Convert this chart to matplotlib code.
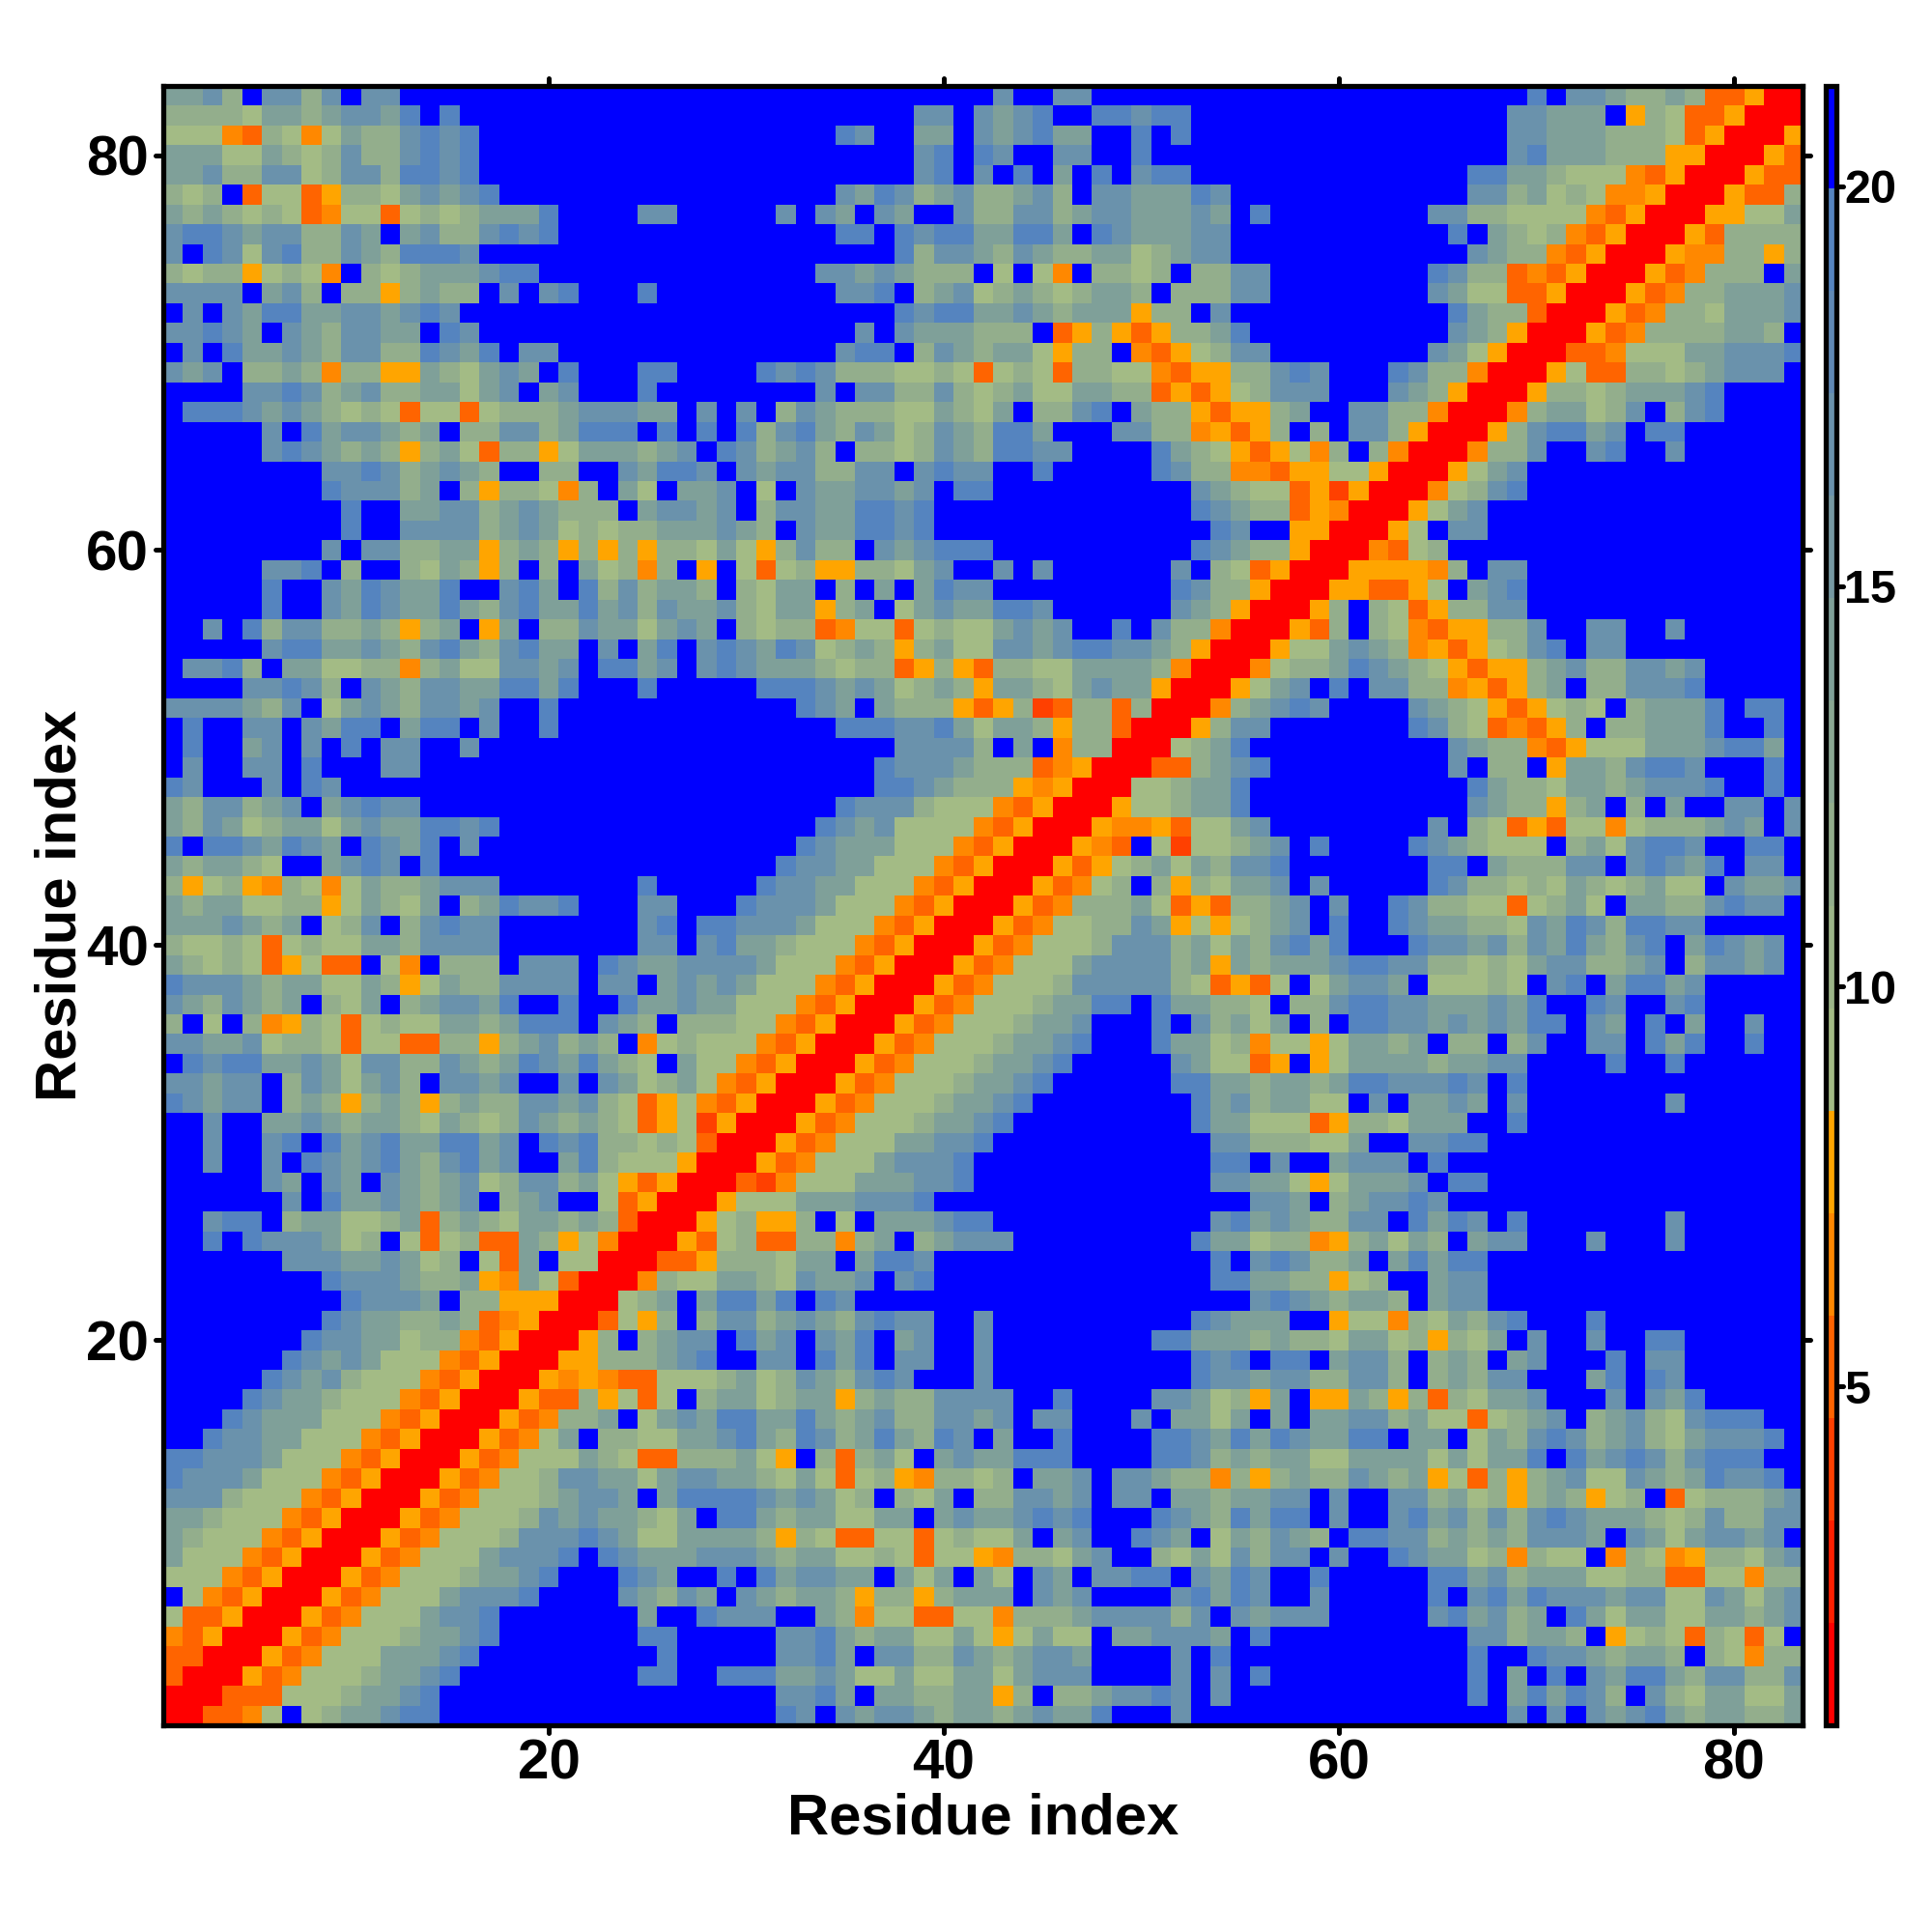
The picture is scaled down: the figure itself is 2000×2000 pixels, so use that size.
import numpy as np
import matplotlib
matplotlib.use('Agg')
import matplotlib.pyplot as plt
from matplotlib.colors import ListedColormap, BoundaryNorm
from matplotlib.cm import ScalarMappable
from matplotlib.markers import MarkerStyle, TICKLEFT, TICKRIGHT, TICKUP, TICKDOWN

plt.rcParams['font.family'] = ['Liberation Sans', 'DejaVu Sans']

# one string per row, from residue 83 at the top down to residue 1
# r f d o y = warm bands, A..E = sage to steel, X = blue
residue_rows = [
    "CCDBXDDBDX DDXXXXXXXX XXXXXXXXXX XXXXXXXXXX XXDXXDDXXX XXXXXXXXXX XXXXXXXXXE XDDCBBCBdd yrr",
    "BBBBACCBCD DCEXEXXXXX XXXXXXXXXX XXXXXXXXDD XDCDEXXEED EEXXXXXXXX XXXXXXXXDD CCCXyBAddy rrr",
    "AAAodBAoAC BBDEDEXXXX XXXXXXXXXX XXXXEDXXCC XDCDECCXXE XEXXXXXXXX XXXXXXXXDD CCCBBBAdyr rry",
    "CCCAACBABD BBDEDEXXXX XXXXXXXXXX XXXXXXXXDE XEDXXDDXXE XXXXXXXXXX XXXXXXXXDE CCCBBByyrr ryd",
    "CCDBBDDABD DBEEDEXXXX XXXXXXXXXX XXXXXXXXDE XDXEXCXEXD EEXXXXXXXX XXXXXXEECC BAAAodyrrr ydd",
    "BABXdAAdyB BACDCDEXXX XXXXXXXXXX XXXXDCEDBC DBBCDBXDDC CCEDXXXXXX XXXXXXDDBC ABAooyrrry ddB",
    "CBCBABAdoA AdABABCCCE XXXXDDXXXX XDXDCXDCXX DBBDDBCDDC CCDCXEXXXX XXXXDDBBAA AAodyrrryy AAC",
    "DEEDCDDBBD CXCDBBDEDE XXXXXXXXXX XXXXEEXEDE ECCEECXEDC CCDDXXXXXX XXXXXEXCBA BodyrrrydB BBB",
    "DXEDADEBBD CBEEEDXXXX XXXXXXXXXX XXXXXXXEBD DCBDCBBCCA BCDDXXXXXX XXXXXXDCBB odyrrryooB ByB",
    "BABByABAoX BABCCCDEEX XXXXXXXXXX XXXDDCDCBB BXAXAoXBBA BXBBDDXXXX XXXXEDBBdo dyrrrydoBB BXC",
    "DDDDXCDBXB ByBCBBXDXD EXXXEXXXXX XXXXDDEXBC DABCBABCCB XBBBDDXXXX XXXXDCAAdd yrrrydoBBC CCD",
    "XDXDCEECCD DCDEDXXXXX XXXXXXXXXX XXXXXXXEDE ECCDCBCCCy BBXDXXXXXX XXXXXECBBd rrrydoBBAC CCD",
    "DDEDCXDCBD DCCXEDXXXX XXXXXXXXXX XXXXXDXDCC CBBBXdyByd yBBCEXXXXX XXXXXDCByr rrydoBBBBC CBX",
    "XDXECCDCBD DBBEDCEXDD XXXXXXXXXX XXXXDEEXBD CBCCAyBBXo dyABDDXXXX XXXXDCAyrr rddoAAACCD DDE",
    "DCDXBBCBoB ByyCBACDCX EXXXEEXXXX EDEDBBBAAB AdABAdBBAA odyyBBDEDX XXEDBBorrr yAddBBABCD DDX",
    "XXXXDDEDBC DBBCCACDXC DXXXEXXXXX XXXDXDDBBD BABCAACCBB dydyABDDDX XXDCByrrry BBABCCCDEX XXX",
    "XEEEDCDCBA BAdAAdABBB CDDDCCXDXD XBDCBBBAAC BACXBBDEXC BBydyyBCXX DDBBorrroB CCABDXBDEX XXX",
    "XXXXXDXECD DCBCXBBDDB CEEEXEXEXE BDECBDCABD CBEECXXXDD BBoydyBXBX DDByrrryBD EECDXEEXXX XXX",
    "XXXXXDEDCB CByBCAdBBy ACCCBCDXED BCDBXBBABD CBEEDDXXXX ECBAydyAoB XBorrroBBD XXDEXXDXXX XXX",
    "XXXXXXXXDD EDBCDCBXXB BXXDCEEDXD CDDBBDDXDE DDXXEXXXXX EDBBoodyyA AyrrryACDX XXXXXXXXXX XXX",
    "XXXXXXXXED DDBCXByBBA oBXCAXCCDX AXDCCDDCDX EEXXXXXXXX XXDCBAAdyf yrrroABDEX XXXXXXXXXX XXX",
    "XXXXXXXXXE XXCCDDBCDC BBBXCDDCDX BDDCCEEDEX XXXXXXXXXX XXEDCBBdyo rrryACDXXX XXXXXXXXXX XXX",
    "XXXXXXXXXE XXDDDDBCDC ABABBCCCDC BXDCCEEDEX XXXXXXXXXX XXXEDXXyyr rryAXDDXXX XXXXXXXXXX XXX",
    "XXXXXXXXDX DDBBCCyBCB yByByBBACA yBDBBXDCDE EEXXXXXXXX XXEDCBByrr rodABXXXXX XXXXXXXXXX XXX",
    "XXXXXDDEXB XXBACByBXB XCABoBXyXA dAByyBBACD XXDXDXXXXX XDXBAdyrrr yyyyoBXDDX XXXXXXXXXX XXX",
    "XXXXXEXXDC EDCCEXXDEC XEBDBCCBXB ACCXBXCXCE DDXXXXXXXX XEDBByrrry yddyAXCDEX XXXXXXXXXX XXX",
    "XXXXXEXXDC EDCCECBDEC CECDBDCCDB ACCyBCXACD CCEEDXXXXX XDCByrrryB XBAdyBBDDX XXXXXXXXXX XXX",
    "XXDXEBDDBB CByBCXyCXB BDCCACDCXB ABBdoAAdAB AACDCDXXEX DBBorrrydB XBAodyyBBD XXDDXXDXXX XXX",
    "XXXXXDEECC DCBDECBDEC CXDXCEXDED CEDABCByBC AADDCDEEDD CByrrryAAC DCBoydyABD EXDDXXXXXX XXX",
    "XDDEBXCCAA BBoBCAADDC DXEECDXDED CCCBABBdyB ydBBAACCCC BorrroABBC EDCBAydyyB CDBBDDCDXX XXX",
    "XXXXDDEDBX DCBDDCCEEC EXXXEXXXXX EEEDCDCABC ByCCBACDCC yrrryACDXE XDDBBoydyB CXBBDDDEXX XXX",
    "DDDDCBDXAC DCBDDCDXXE XXXXXXXXXX XXEDCXCBBB ydyBfdBBdB rrroBCDEDX XXXDCBAydy ABAXBCCCEX EEX",
    "XEXXDDXDCE EXCEEXDXXE XXXXXXXXXX XXXXEEEDDE CACCByBBdr rryBDDXXXX XXXEDBAdod yBXBBCCCEX XEX",
    "XEXXCDXDXE XDDXXDXXXX XXXXXXXXXX XXXXXXXDDD DBXCXoBBrr rABCEXXXXX XXXXXDCBBo dyAAACCCDE ECX",
    "XDXXDDXEXX XDDXXXXXXX XXXXXXXXXX XXXXXXEDDD CBBBdoyrrr ddBCDEXXXX XXXXXDXBBX yCCBDEEDXX XEX",
    "EDXXXDXEDX XXXXXXXXXX XXXXXXXXXX XXXXXXEEDC BBByoyrrrA ABCCEXXXXX XXXXXXECBB ACCBCDDDEX XEX",
    "CBDDBCDXCD EDDXXXXXXX XXXXXXXXXX XXXXEDDDBA AAodyrrryA ABCCEXXXXX XXXXXXDCBB yBCXBXCXXD DXD",
    "CBDCABCCAC DCCEEDEXXX XXXXXXXXXX XXXEDCDAAA Aodyrrryoo ydAACDXXXX XXXXDXBAdy dAAoABBBCD CXD",
    "EXEEDCEDCX EDCEXDXXXX XXXXXXXXXX XXEDCCCAAA odyrrryodX AfAABCDXEX XXXEDCBAAA XBCADEEDXX EEX",
    "CBCCBAXXCD EDXEXXXXXX XXXXXXXXXX XEDDCCAAAo dyrrrydyAB CACBDDEXXX XXXXEEXCBB BDDXDEDCEX DDX",
    "ByAByoBAoA CBBCDDDXXX XXXXEXXXXX EDDCCAAAod yrrrydoABX ByBACCDXDX XXXXEDBBAB ACBABCAAXD CCD",
    "CBCCAABByA CBACXBCEDD EXXXDDXXXE DDDCAAAody rrrydoBBBC AdydBBCDXD XXEDBBAAdA BCAXCCBBDE DDX",
    "CCCDCBCXAB DXBDEDDXXX XXXXDEXEED DDCAAAodyr rrydoAABBD CyAyABCDXE XXEDCCBBAD CEDBEEDDXX XXX",
    "BAABAdABAA CCBDDDDXXX XXXXDDXDEC CBAAAodyrr rydoAAABDD DBCACBDECE XXXEDDCDBD CECBDEXCED CDX",
    "CBABAdyAdd XAoXBBBXDD DXEDCCDDDD CAAAodyrrr ydoAAACDDD DBCyCBCCCD EEDDBBABAC DDBBCDXBDD CDX",
    "EDDDCBCCAA CByACBBDDD DXDDXCDCDC AAAodyrrry doAAABDDDD DBAdydAXAC DDCXAAABAX DEXCEECDXX XXX",
    "DCBDCBCXBA CXBCDDCEXX EXXECCDCCA AAodyrrryd oAAABCCEEX ECCBBAXBBD EEDDCCCDCE XXEDXXDEXX XXX",
    "BXAXBoyBAd ABAACCBCEE EXDCBXBBBA Aodyrrrydo AAABCCDXXX EXDBCACXBX EEDDCDCDCE EXDCXEXCXX DXX",
    "DDCCDABBAd AAddBByBCD BCBXoABAAA odyrrrydoA AABCCDEXXX ECCABoAAyA CCBCXBBXBD XXDDXECEXX EXX",
    "XEDEECCDCA DDBBDCBCED CECBAXCAAo dyrrrydoAA ABCCDEXXXX XDCAAdyXyA CCCCBCCDDX XXXEXXEXXX XXX",
    "DDCDDXBDCA CDBXDDCDXX DXDCABCAod yrrrydoAAA BCCDEXXXXX XEECCBCCBC EEDDDEDXEX XXXXXXXXXX XXX",
    "EDCDDXBCBy BCByBCBBDD CDBAdyAody rrrydoAAAB CCDEXXXXXX XXECDBCCAA XDXCCDCXDX XXXXXXDXXX XXX",
    "XXDXXCCDCB CCBACBABDC BCBAdyAfyr rrydoAAABC CDEXXXXXXX XXECCAAAdy BBACCCXXEX XXXXXXXXXX XXX",
    "XXDXXDEXEC DECCEECDXE DEBBABAdrr rydoAAACCD DEXXXXXXXX XXXDDBBBAA CXXDDEEXXX XXXXXXXXXX XXX",
    "XXDXXDXEDC DECBDECDXX CEBAAAyrrr ydoAAACDDD EXXXXXXXXX XXXEEXDXXC DDDXEXXXXX XXXXXXXXXX XXX",
    "XXXXXDCXDC XDCBCDABDD BCAydyrrrd foAAACCCDD EXXXXXXXXX XXXDDCCAyA CCCDXEEXXX XXXXXXXXXX XXX",
    "XXXXXXDXEC CDCBCDXBCD XXAdyrrryA AACCCDDDEX XXXXXXXXXX XXXXXDDCXB CDDEDXXXXX XXXXXXXXXX XXX",
    "XXDEEXBCCA ABCdBCBACC BCBdrrryAB yyBXAXCCCD EEXXXXXXXX XXXDECDCBB DDXECEDXEX XXXXXXDXXX XXX",
    "XXEXEDDDCA BXAdABddCB yAorrrydAB ddBBoBCXBC DDDXXXXXXX XXECCABBoy BCACBXCDDX XXDXXXDXXX XXX",
    "XXXXXXDDDC CDCABXAdCX AArrrddyBB BACCXCEEDX XXXXXXXXXX XXXEXDEDBB CXCECEEXXX XXXXXXXXXX XXX",
    "XXXXXXXXED DDCBBCyoCA drrroBAACC BADCCDXDEX XXXXXXXXXX XXXEECCBBy ABXXCDDXXX XXXXXXXXXX XXX",
    "XXXXXXXXXE DDDCXBByyy rrrABCXCEE CEXEDXXXXX XXXXXXXXXX XXXXXDEDCB CCBXCDDXXX XXXXXXXXXX XXX",
    "XXXXXXXXED CCBBCBdoyr rrdAyBXBDD BCDCBDEDDX XDXXXXXXXX XXEDCCCXXy AAoBACBDEX XXEXXXXXXX XXX",
    "XXXXXXXEDD CCABBodyrr ryBXBCDDXE CDXDCEXCDX XDXXXXXXXX EECCCBCBBA CCAByBACXD XXDXXEEXXX XXX",
    "XXXXXXEDCD CAAAodyrrr yyBBBCDEXX DDXECEXDDX XDXXXXXXXX XXEDEXEEXC DDBXBCBXCD XXXEXDDXXX XXX",
    "XXXXXEDCDB AAAodyrrry oyoddAAABC ABDCBDEDXX XDXXXXXXXX XXEDDCDDBB DDBXBCBDDX XXCEXEDXXX XXX",
    "XXXXEDCCBA AAodyrrryd dByAdAXBCC ABCCyBCBBD DDDXXEXXXX DDCAByCXyy CByBdBACCD XXXDXDCEXX XXX",
    "XXXEDCCCAA Aodyrrrydo BBCXACDCEE CCECBCDBBD DCDXDDXXXD XCCACXCXCC DDBCAAdABC DXBCDBADEE EXX",
    "XXEDDCCAAA odyrrrydoA CXBBAACCDE CBEDBCECBE DXCXXEXXXX EEDCECEDCC EEXCCXACBD EDBCDBACDD DEX",
    "EEDDDCAAAo dyrrrydoAA ACBAddBBBC AyXBdBCAXC DCCEEEXXXX EEDBCBCCAA CCCCACACCE XECDEDBDEE EXX",
    "EDDDCAAAod yrrrydoAAB DDCCACDDCC BACAdAByoB BABXCCDXDD CBBoByBCBB DCBCyAdByB CDAADCBCED DEX",
    "DDDBAAAody rrrydoAAAB CDDCXCEEEE DCDCABXBAC XBBDDCDXDD XCCBCCDDXD XXDDBCAByB CByABXdABB BCD",
    "CCBAAAodyr rrydoAAABD CDCCBACXEE CBCCAACCXC DCCDEDEXXX EDCBECEEXD XXDECDBDBD EDCCCBABDB BDD",
    "CBAAAodyrr rydoAAABDD DEDCAACCCC ByBAddAAdA BAACXCDXXE DCXACBDCBX EEDDBCBCBD DDCXDCACDD CDX",
    "CAAAodyrrr ydoAAACDDD EXEDCCCDDD CBCCAABAdA AyoBBACDXX BACADBDDXD XXEDCCABoB AAXoBAoyBB ACD",
    "AAAodyrrry doAAABCCDE XXXEDCXXEX ECDDCCXCAC XCAXDCXDDE EXDCEDXXEX XXXXEECDBC CCAABBddAA oBB",
    "XAodyrrryd oAAACDDDEX XXXDCBDCXD CBCCByBByB CCCXDCDXXX XDECEDXXDX XXXXEXDECE DDDCDDAADC ACD",
    "Addyrrrydo AAACDDEXXX XXXXCXXEDD DXXCBoAAdd AAoBBBCDDD DBDXDCDDDX XXXXDECDBC XECACCAACC BCD",
    "odyrrrydoA AABCCDEXXX XXXXEEXXXX XDDECBCCAA CAyACAAXCC DDDCXEXXXX XXXXXXDDBC CBXyABAdBA dAX",
    "ddrrrydoAA ACCCDEXXXX XXXXXEXXXX XDDECXDDBB DCBCDDCXXX XDXEXXXXXX XXXXXXEXXE DDCBCCBXBA oBB",
    "drrrydoAAA BCCDEXXXXX XXXXEEXXEE ECCDCAACAA CCACDDDXXX XDXDXEXXXX XXXXXXEXCX EXDCEECBDD BBD",
    "rrrdddAAAB CCDEXXXXXX XXXXXXXXXX XDDECXCCBB CCyBXBBCDD EDXDXXXXXX XXXXXXEXCE CEDBXDBACC AAC",
    "rrddoAXABC CDEEXXXXXX XXXXXXXXXX XEDXDCDDCB CCBCDCCEXX XDXXXXXXXX XXXXXXXXDX DXDCDECBCC BBC",
]

# distance value for each letter
letter_values = {'r': 1.4, 'f': 4.0, 'd': 5.25, 'o': 6.5, 'y': 7.8,
                 'A': 9.1, 'B': 11.7, 'C': 14.2, 'D': 16.8, 'E': 19.3, 'X': 20.6}

band_edges = [0.77, 2.05, 3.33, 4.61, 5.89, 7.17, 8.45, 9.73, 11.01, 12.29,
              13.57, 14.85, 16.13, 17.41, 18.69, 19.97, 21.25]
band_colors = ['#ff0000', '#ff2000', '#ff4000', '#ff6400', '#ff8800', '#ffa500',
               '#a3bb85', '#9bb488', '#93ae8c', '#8aa893', '#7fa099', '#7699a2',
               '#6a92ac', '#6089b5', '#5584bf', '#0000ff']

residue_ticks = [20, 40, 60, 80]
bar_ticks = [5, 10, 15, 20]

rows = [r.replace(' ', '') for r in residue_rows]
matrix = np.array([[letter_values[c] for c in r] for r in rows])[::-1]

cmap = ListedColormap(band_colors)
norm = BoundaryNorm(band_edges, cmap.N)


def round_ticks(axis, first, second):
    for t in axis.get_major_ticks():
        t.tick1line.set_marker(MarkerStyle(first, capstyle='round'))
        t.tick2line.set_marker(MarkerStyle(second, capstyle='round'))


fig = plt.figure(figsize=(20, 20), dpi=100)
ax = fig.add_axes([169.2 / 2000, 1 - 1786 / 2000, 1697.2 / 2000, 1697 / 2000])
ax.imshow(matrix, origin='lower', cmap=cmap, norm=norm, interpolation='nearest',
          extent=(0.5, 83.5, 0.5, 83.5), aspect='auto')
ax.set_xticks(residue_ticks)
ax.set_yticks(residue_ticks)
ax.tick_params(axis='both', which='major', length=6, width=3.6, labelsize=42,
               top=True, right=True, labeltop=False, labelright=False)
ax.tick_params(axis='x', pad=4)
ax.tick_params(axis='y', pad=5)
for lab in ax.get_xticklabels() + ax.get_yticklabels():
    lab.set_fontweight('bold')
round_ticks(ax.xaxis, TICKDOWN, TICKUP)
round_ticks(ax.yaxis, TICKLEFT, TICKRIGHT)
for s in ax.spines.values():
    s.set_linewidth(3.8)
ax.set_xlabel('Residue index', fontsize=43, fontweight='bold', labelpad=1)
ax.set_ylabel('Residue index', fontsize=43, fontweight='bold', labelpad=-1)

cax = fig.add_axes([1889.5 / 2000, 1 - 1786 / 2000, 11.5 / 2000, 1697 / 2000])
cb = fig.colorbar(ScalarMappable(norm=norm, cmap=cmap), cax=cax, ticks=bar_ticks,
                  spacing='proportional')
cb.minorticks_off()
cb.outline.set_linewidth(3.8)
cax.tick_params(axis='y', which='major', length=5, width=3.6, labelsize=35, pad=1)
for lab in cax.get_yticklabels():
    lab.set_fontweight('bold')
for t in cax.yaxis.get_major_ticks():
    t.tick2line.set_marker(MarkerStyle(TICKRIGHT, capstyle='round'))

fig.savefig('out.png', dpi=100, facecolor='white')
